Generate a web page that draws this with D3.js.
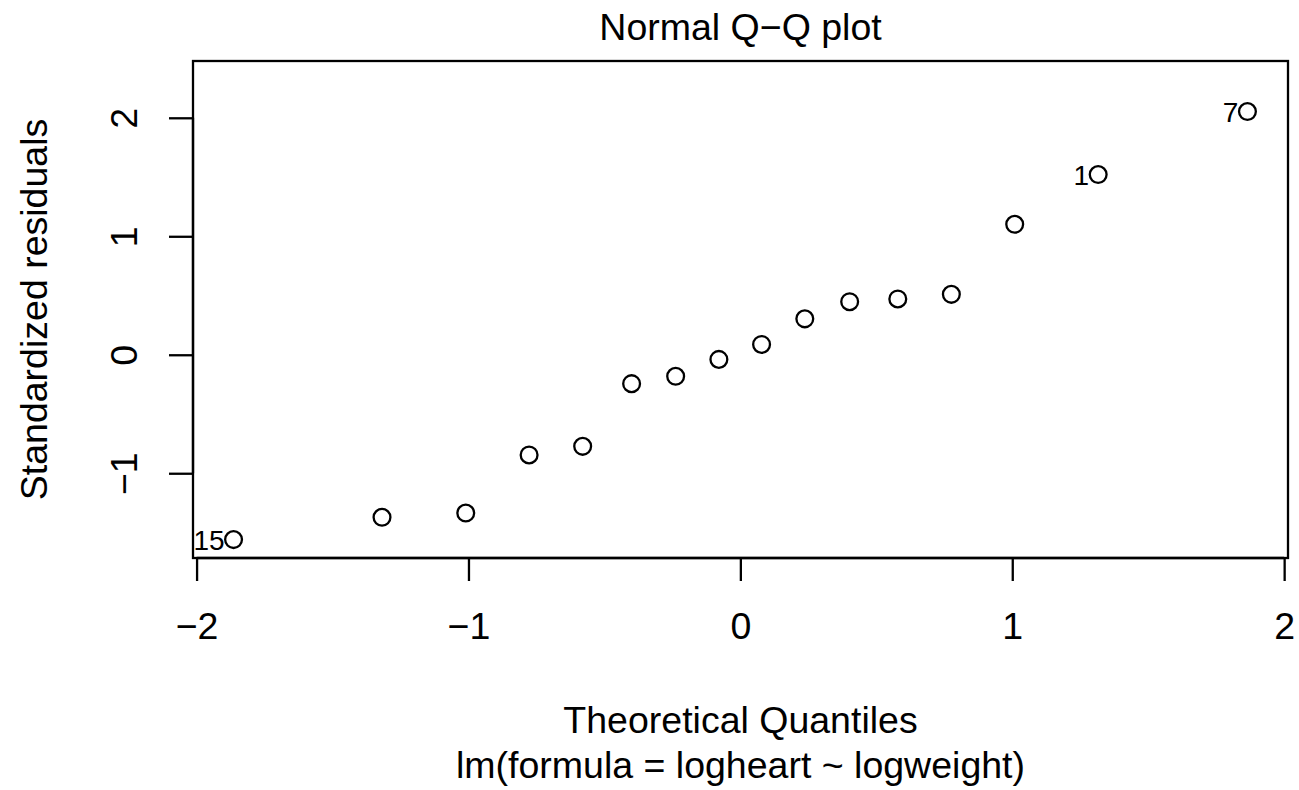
<!DOCTYPE html>
<html>
<head>
<meta charset="utf-8">
<script src="https://cdn.jsdelivr.net/npm/d3@7"></script>
<style>
  html, body { margin: 0; padding: 0; background: #fff; }
  svg { display: block; font-family: "Liberation Sans", Arial, sans-serif; }
</style>
</head>
<body>
<svg id="chart" width="1299" height="790"></svg>
<script>
// theoretical quantiles and standardized residuals
const theoretical = [-1.864, -1.318, -1.010, -0.777, -0.580, -0.400, -0.238, -0.079,
                     0.078, 0.237, 0.402, 0.579, 0.776, 1.009, 1.316, 1.865];
const residuals = [-1.56, -1.372, -1.336, -0.846, -0.773, -0.244, -0.182, -0.039,
                   0.087, 0.303, 0.448, 0.471, 0.510, 1.101, 1.521, 2.053];
const pointLabels = ["15", "", "", "", "", "", "", "", "", "", "", "", "", "", "1", "7"];
const xTicks = [-2, -1, 0, 1, 2];
const yTicks = [-1, 0, 1, 2];

const title = "Normal Q\u2212Q plot";
const xTitle = "Theoretical Quantiles";
const subTitle = "lm(formula = logheart ~ logweight)";
const yTitle = "Standardized residuals";

const box = { left: 193, right: 1288, top: 61, bottom: 558 };
const lw = 2.3;
const fs = 37.5;

const svg = d3.select('#chart');

// R style limits: 4% padding, extra head room for the labels
const xe = d3.extent(theoretical);
const xp = (xe[1] - xe[0]) * 0.04;
const ye = d3.extent(residuals);
ye[1] = ye[1] + (ye[1] - ye[0]) * 0.075;
const yp = (ye[1] - ye[0]) * 0.04;

const x = d3.scaleLinear().domain([xe[0] - xp, xe[1] + xp]).range([box.left, box.right]);
const y = d3.scaleLinear().domain([ye[0] - yp, ye[1] + yp]).range([box.bottom, box.top]);

const fmt = d => d < 0 ? '\u2212' + Math.abs(d) : String(d);

// x axis
const xAxis = svg.append('g')
  .attr('transform', `translate(0,${box.bottom})`)
  .call(d3.axisBottom(x).tickValues(xTicks).tickSize(23).tickPadding(0).tickFormat(fmt));
xAxis.select('.domain').attr('d', `M${x(xTicks[0])},0H${x(xTicks[xTicks.length - 1])}`)
  .attr('stroke', '#000').attr('stroke-width', lw);
xAxis.selectAll('.tick line').attr('stroke', '#000').attr('stroke-width', lw);
xAxis.selectAll('.tick text')
  .attr('y', 81).attr('dy', null)
  .style('font-size', fs + 'px').attr('fill', '#000');

// y axis
const yAxis = svg.append('g')
  .attr('transform', `translate(${box.left},0)`)
  .call(d3.axisLeft(y).tickValues(yTicks).tickSize(24).tickFormat(fmt));
yAxis.select('.domain').attr('d', `M0,${y(yTicks[0])}V${y(yTicks[yTicks.length - 1])}`)
  .attr('stroke', '#000').attr('stroke-width', lw);
yAxis.selectAll('.tick line').attr('stroke', '#000').attr('stroke-width', lw);
yAxis.selectAll('.tick text')
  .attr('x', null).attr('dy', null)
  .attr('transform', 'translate(-56,0) rotate(-90)')
  .attr('text-anchor', 'middle')
  .style('font-size', fs + 'px').attr('fill', '#000');

// plot frame
svg.append('rect')
  .attr('x', box.left).attr('y', box.top)
  .attr('width', box.right - box.left).attr('height', box.bottom - box.top)
  .attr('fill', 'none').attr('stroke', '#000').attr('stroke-width', lw);

// points
const data = theoretical.map((t, i) => ({ t, r: residuals[i], label: pointLabels[i] }));

svg.append('g').selectAll('circle')
  .data(data)
  .enter().append('circle')
  .attr('cx', d => x(d.t))
  .attr('cy', d => y(d.r))
  .attr('r', 8.4)
  .attr('fill', 'none')
  .attr('stroke', '#000')
  .attr('stroke-width', lw);

// id labels for the extreme points
svg.append('g').selectAll('text')
  .data(data.filter(d => d.label))
  .enter().append('text')
  .attr('x', d => x(d.t) - 9)
  .attr('y', d => y(d.r) + 10)
  .attr('text-anchor', 'end')
  .style('font-size', '28px')
  .text(d => d.label);

// titles
const cx = (box.left + box.right) / 2;
svg.append('text').attr('x', cx).attr('y', 40).attr('text-anchor', 'middle')
  .style('font-size', fs + 'px').text(title);
svg.append('text').attr('x', cx).attr('y', 733).attr('text-anchor', 'middle')
  .style('font-size', fs + 'px').text(xTitle);
svg.append('text').attr('x', cx).attr('y', 778).attr('text-anchor', 'middle')
  .style('font-size', fs + 'px').text(subTitle);
svg.append('text')
  .attr('transform', `translate(47,${(box.top + box.bottom) / 2}) rotate(-90)`)
  .attr('text-anchor', 'middle')
  .style('font-size', fs + 'px').text(yTitle);
</script>
</body>
</html>
